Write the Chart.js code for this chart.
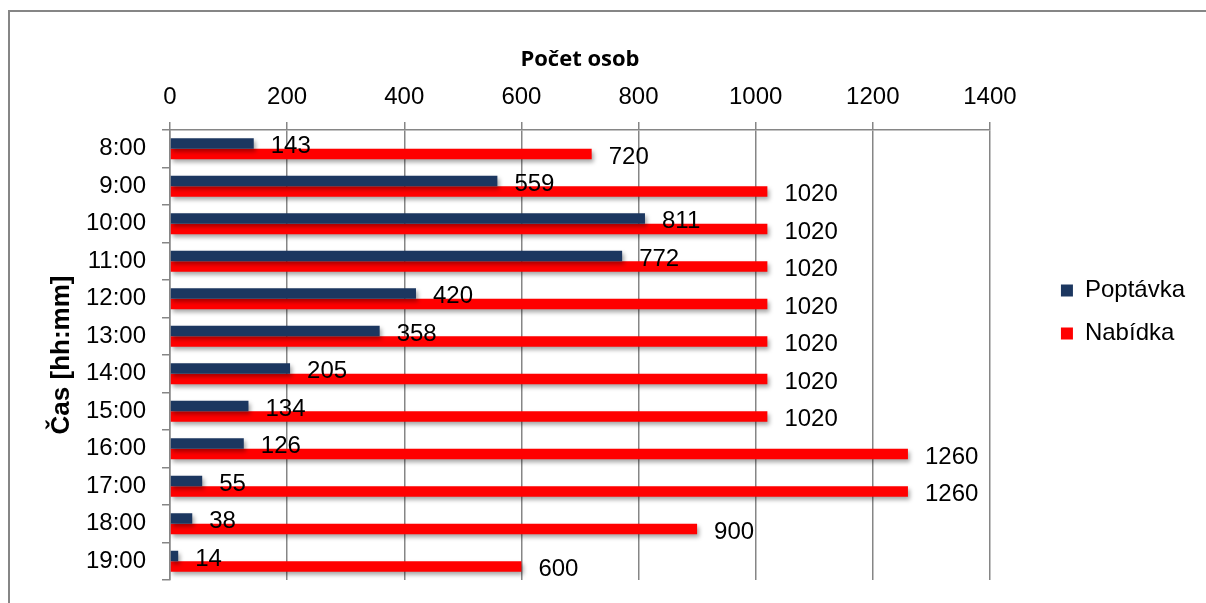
<!DOCTYPE html>
<html>
<head>
<meta charset="utf-8">
<script src="https://cdn.jsdelivr.net/npm/chart.js@4.4.1/dist/chart.umd.min.js"></script>
<style>
  html, body { margin: 0; padding: 0; background: #fff; }
  #frame { position: absolute; left: 8px; top: 10px; width: 1300px; height: 700px; border: 2px solid #868686; box-sizing: border-box; }
  #wrap { position: absolute; left: 0; top: 0; width: 1206px; height: 603px; }
</style>
</head>
<body>
<div id="frame"></div>
<div id="wrap"><canvas id="chart" width="1206" height="603"></canvas></div>
<script>
// data
const hours = ['8:00', '9:00', '10:00', '11:00', '12:00', '13:00', '14:00', '15:00', '16:00', '17:00', '18:00', '19:00'];
const poptavka = [143, 559, 811, 772, 420, 358, 205, 134, 126, 55, 38, 14];
const nabidka = [720, 1020, 1020, 1020, 1020, 1020, 1020, 1020, 1260, 1260, 900, 600];

const gridColor = '#868686';
const labelFont = {family: "'Liberation Sans', Arial, sans-serif", size: 24};

// stin pod sloupci + hodnoty za koncem sloupce
const barExtras = {
    id: 'barExtras',
    beforeDatasetsDraw(chart) {
        const ctx = chart.ctx;
        ctx.save();
        ctx.shadowColor = 'rgba(0,0,0,0.35)';
        ctx.shadowOffsetX = 2;
        ctx.shadowOffsetY = 3;
        ctx.shadowBlur = 4;
    },
    afterDatasetsDraw(chart) {
        const ctx = chart.ctx;
        ctx.restore();
        ctx.save();
        ctx.font = labelFont.size + 'px ' + labelFont.family;
        ctx.fillStyle = '#000';
        ctx.textAlign = 'left';
        ctx.textBaseline = 'middle';
        chart.data.datasets.forEach((ds, i) => {
            chart.getDatasetMeta(i).data.forEach((bar, j) => {
                ctx.fillText(String(ds.data[j]), bar.x + 17, bar.y + 3);
            });
        });
        ctx.restore();
    }
};

// legenda posunuta doprava a dolu
const legendShift = {
    id: 'legendShift',
    afterLayout(chart) {
        const lg = chart.legend;
        lg.left += 52;
        lg.right += 52;
        lg.top += 22;
        lg.bottom += 22;
    }
};

new Chart(document.getElementById('chart'), {
    type: 'bar',
    data: {
        labels: hours,
        datasets: [
            {label: 'Poptávka', data: poptavka, backgroundColor: '#1c3760', categoryPercentage: 0.56, barPercentage: 1},
            {label: 'Nabídka', data: nabidka, backgroundColor: '#ff0000', categoryPercentage: 0.56, barPercentage: 1}
        ]
    },
    options: {
        indexAxis: 'y',
        responsive: false,
        animation: false,
        layout: {padding: {top: 0, left: 0, right: 63, bottom: 23}},
        plugins: {
            legend: {
                position: 'right',
                labels: {
                    font: labelFont,
                    color: '#000',
                    boxWidth: 12,
                    boxHeight: 12,
                    padding: 19
                }
            },
            tooltip: {enabled: false}
        },
        scales: {
            x: {
                position: 'top',
                min: 0,
                max: 1400,
                ticks: {stepSize: 200, font: labelFont, color: '#000', padding: 10, callback: v => String(v)},
                grid: {color: gridColor, lineWidth: 1.5, tickLength: 8},
                border: {color: gridColor, width: 1.5},
                title: {
                    display: true,
                    text: 'Počet osob',
                    font: {family: "'Open Sans'", size: 22, weight: 'bold'},
                    color: '#000',
                    padding: {top: 47, bottom: 0}
                },
                afterFit(scale) { scale.height = 130; }
            },
            y: {
                ticks: {font: labelFont, color: '#000', padding: 16},
                grid: {display: true, drawOnChartArea: false, color: gridColor, lineWidth: 1.5, tickLength: 8},
                border: {color: gridColor, width: 1.5},
                title: {
                    display: true,
                    text: 'Čas [hh:mm]',
                    font: {family: "'Liberation Sans', Arial, sans-serif", size: 26, weight: 'bold'},
                    color: '#000',
                    padding: {top: 46, bottom: 0}
                },
                afterFit(scale) {
                    scale.width = 170;
                    scale.paddingTop = 0;
                    scale.paddingBottom = 0;
                }
            }
        }
    },
    plugins: [barExtras, legendShift]
});
</script>
</body>
</html>
